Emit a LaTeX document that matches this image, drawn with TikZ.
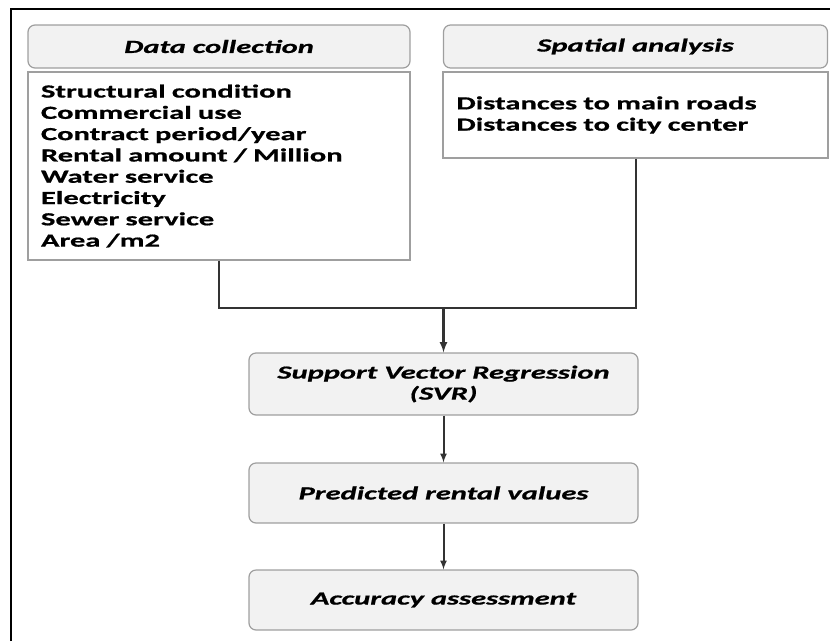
\documentclass[tikz,border=0pt]{standalone}
\usepackage{fontspec}
\setmainfont{Carlito}[FakeStretch=1.65,BoldFeatures={FakeBold=0.8},BoldItalicFeatures={FakeBold=0.8}]
\begin{document}
\begin{tikzpicture}[x=1pt,y=-1pt,
	head/.style={draw=gray!75,fill=gray!10,line width=1.2pt,rounded corners=7pt,minimum height=43pt,font=\bfseries\itshape\fontsize{18.5}{21}\selectfont,align=center},
	lst/.style={draw=gray!75,fill=white,line width=1.2pt,font=\bfseries\fontsize{18.5}{21.3}\selectfont,align=left,inner xsep=13pt},
	conn/.style={draw=black!80,line width=2pt},
	arr/.style={draw=black!80,line width=2pt,-latex}]
	\useasboundingbox (0,0) rectangle (830,641);
	% frame
	\draw[line width=2.5pt] (11,641) -- (11,9) -- (830,9);
	% top row
	\node[head,minimum width=382pt] (dathead) at (219,46.5) {Data collection};
	\node[head,minimum width=384pt] (spahead) at (635.5,46.5) {Spatial analysis};
	\node[lst,minimum width=382pt,minimum height=188pt,text width=356pt] (dat) at (219,166) {Structural condition\\Commercial use\\Contract period/year\\Rental amount / Million\\Water service\\Electricity\\Sewer service\\Area /m2};
	\node[lst,minimum width=385pt,minimum height=86pt,text width=358pt] (spa) at (635.5,115) {Distances to main roads\\Distances to city center};
	% steps
	\node[head,minimum width=389pt,minimum height=62pt] (svr) at (443.5,384) {Support Vector Regression\\(SVR)};
	\node[head,minimum width=389pt,minimum height=60pt] (pred) at (443.5,493) {Predicted rental values};
	\node[head,minimum width=389pt,minimum height=60pt] (acc) at (443.5,600) {Accuracy assessment};
	% connectors
	\coordinate (join) at (443.5,308);
	\draw[conn] (dat.south) |- (join);
	\draw[conn] (spa.south) |- (join);
	\draw[arr,line width=2.5pt] (join) -- (svr);
	\draw[arr] (svr) -- (pred);
	\draw[arr] (pred) -- (acc);
\end{tikzpicture}
\end{document}
